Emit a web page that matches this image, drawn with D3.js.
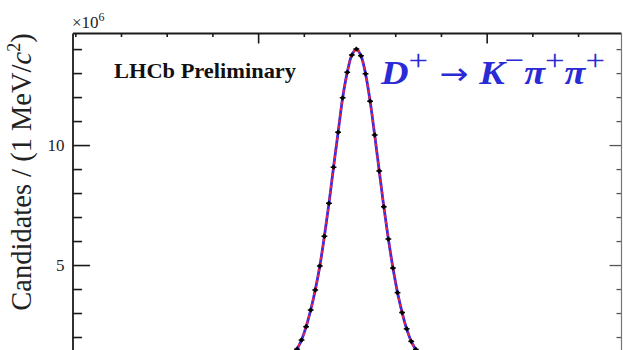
<!DOCTYPE html>
<html>
<head>
<meta charset="utf-8">
<script src="https://cdn.jsdelivr.net/npm/d3@7"></script>
<style>
  html, body { margin: 0; padding: 0; background: #fff; }
  svg { display: block; }
  text { font-family: "Liberation Serif", "Times New Roman", serif; }
</style>
</head>
<body>
<svg id="chart" width="623" height="350"></svg>
<script>
// D+ -> K- pi+ pi+ invariant-mass peak, 1 MeV/c^2 bins (candidates in units of 10^6)
const massBins = [
  1857.5, 1858.5, 1859.5, 1860.5, 1861.5, 1862.5, 1863.5, 1864.5, 1865.5,
  1866.5, 1867.5, 1868.5, 1869.5, 1870.5, 1871.5, 1872.5, 1873.5, 1874.5,
  1875.5, 1876.5, 1877.5, 1878.5, 1879.5, 1880.5, 1881.5, 1882.5, 1883.5,
  1884.5, 1885.5
];
const candidatesE6 = [
  1.18, 1.49, 1.875, 2.43, 3.125, 3.96, 4.96, 6.20, 7.57,
  9.08, 10.53, 11.97, 13.03, 13.75, 14.00, 13.72, 12.97, 11.83,
  10.42, 8.92, 7.43, 6.08, 4.875, 3.85, 3.02, 2.34, 1.82,
  1.48, 1.17
];
// fit model evaluated at the bin centres
const fitE6 = candidatesE6.slice();

const yMajorTicks = [5, 10];
const yTickLabels = ["5", "10"];
const yMinorTicks = [1, 2, 3, 4, 6, 7, 8, 9, 11, 12, 13, 14];
const xMajorTicks = [1850, 1900];
const xMinorTicks = [1810, 1820, 1830, 1840, 1860, 1870, 1880, 1890, 1910, 1920];

const frame = { left: 73, right: 621.5, top: 33.5, bottom: 385 };
const svg = d3.select("#chart");

const x = d3.scaleLinear().domain([1809.5, 1929.5]).range([frame.left, frame.right]);
const y = d3.scaleLinear().domain([0, 14.65]).range([frame.bottom, frame.top]);

const axisColor = "#1a1a1a";

// left axis: long major ticks, short minor ticks, pointing into the frame
const leftMajor = d3.axisRight(y).tickValues(yMajorTicks).tickSize(17).tickFormat("");
const leftMinor = d3.axisRight(y).tickValues(yMinorTicks).tickSize(9).tickFormat("");
const rightMajor = d3.axisLeft(y).tickValues(yMajorTicks).tickSize(12).tickFormat("");
const rightMinor = d3.axisLeft(y).tickValues(yMinorTicks).tickSize(5).tickFormat("");
const topMajor = d3.axisBottom(x).tickValues(xMajorTicks).tickSize(10).tickFormat("");
const topMinor = d3.axisBottom(x).tickValues(xMinorTicks).tickSize(3.5).tickFormat("");

function styleAxis(g) {
  g.select(".domain").remove();
  g.selectAll(".tick line").attr("stroke", axisColor).attr("stroke-width", 1.6);
}

svg.append("g").attr("transform", `translate(${frame.left},0)`).call(leftMajor).call(styleAxis);
svg.append("g").attr("transform", `translate(${frame.left},0)`).call(leftMinor).call(styleAxis);
svg.append("g").attr("transform", `translate(${frame.right},0)`).call(rightMajor).call(styleAxis)
  .selectAll(".tick line").attr("stroke", "#555").attr("stroke-width", 1.3);
svg.append("g").attr("transform", `translate(${frame.right},0)`).call(rightMinor).call(styleAxis)
  .selectAll(".tick line").attr("stroke", "#555").attr("stroke-width", 1.3);
svg.append("g").attr("transform", `translate(0,${frame.top})`).call(topMajor).call(styleAxis);
svg.append("g").attr("transform", `translate(0,${frame.top})`).call(topMinor).call(styleAxis);

// frame lines
svg.append("line").attr("x1", frame.left).attr("x2", frame.left)
  .attr("y1", frame.top).attr("y2", frame.bottom + 20)
  .attr("stroke", axisColor).attr("stroke-width", 1.8);
svg.append("line").attr("x1", frame.left).attr("x2", frame.right)
  .attr("y1", frame.top).attr("y2", frame.top)
  .attr("stroke", axisColor).attr("stroke-width", 1.8);
svg.append("line").attr("x1", frame.right).attr("x2", frame.right)
  .attr("y1", frame.top).attr("y2", frame.bottom + 20)
  .attr("stroke", "#777").attr("stroke-width", 1.2);

// y tick labels
svg.selectAll(".ylab").data(yMajorTicks).enter().append("text")
  .attr("class", "ylab")
  .attr("x", 64.5).attr("y", d => y(d)).attr("dy", "0.34em")
  .attr("text-anchor", "end").attr("font-size", 17).attr("fill", "#222")
  .text((d, i) => yTickLabels[i]);

// exponent label
const expo = svg.append("text").attr("x", 72).attr("y", 28).attr("font-size", 17).attr("fill", "#222");
expo.append("tspan").text("×10");
expo.append("tspan").attr("dy", -7).attr("font-size", 12).text("6");

// y axis title
const ytitle = svg.append("text")
  .attr("transform", "translate(31,172) rotate(-90)")
  .attr("text-anchor", "middle").attr("font-size", 28.5).attr("fill", "#222");
ytitle.append("tspan").text("Candidates / (1 MeV/");
ytitle.append("tspan").attr("font-style", "italic").text("c");
ytitle.append("tspan").attr("dy", -11).attr("font-size", 18).text("2");
ytitle.append("tspan").attr("dy", 11).text(")");

// plot clip
svg.append("clipPath").attr("id", "plotclip").append("rect")
  .attr("x", frame.left).attr("y", frame.top)
  .attr("width", frame.right - frame.left).attr("height", frame.bottom - frame.top + 40);

const plot = svg.append("g").attr("clip-path", "url(#plotclip)");

const fitLine = d3.line()
  .x((d, i) => x(massBins[i]))
  .y(d => y(d))
  .curve(d3.curveCatmullRom.alpha(0.5));

// total fit (blue) and signal component (red dashed)
plot.append("path").datum(fitE6).attr("d", fitLine)
  .attr("fill", "none").attr("stroke", "#3a2ae0").attr("stroke-width", 2.8);
plot.append("path").datum(fitE6).attr("d", fitLine)
  .attr("fill", "none").attr("stroke", "#f02040").attr("stroke-width", 2.2)
  .attr("stroke-dasharray", "3,3");

// data points with bin-width bars
const pts = plot.selectAll(".pt").data(candidatesE6).enter().append("g")
  .attr("class", "pt")
  .attr("transform", (d, i) => `translate(${x(massBins[i])},${y(d)})`);
const halfBin = (x(1) - x(0)) / 2 + 0.6;
pts.append("line").attr("x1", -halfBin).attr("x2", halfBin).attr("y1", 0).attr("y2", 0)
  .attr("stroke", "#000").attr("stroke-width", 1.5);
pts.append("line").attr("x1", 0).attr("x2", 0).attr("y1", -2.4).attr("y2", 2.4)
  .attr("stroke", "#000").attr("stroke-width", 1.4);
pts.append("circle").attr("r", 1.9).attr("fill", "#000");

// labels
svg.append("text").attr("x", 114).attr("y", 78)
  .attr("font-size", 21).attr("font-weight", "bold").attr("fill", "#111")
  .attr("textLength", 182).attr("lengthAdjust", "spacingAndGlyphs")
  .text("LHCb Preliminary");

const decay = svg.append("text").attr("x", 381).attr("y", 84)
  .attr("font-size", 33).attr("font-weight", "bold").attr("fill", "#2b2bd6")
  .attr("textLength", 224).attr("lengthAdjust", "spacingAndGlyphs");
decay.append("tspan").attr("font-style", "italic").text("D");
decay.append("tspan").attr("dy", -14).attr("font-size", 30).attr("font-weight", "normal").text("+");
decay.append("tspan").attr("dy", 14).attr("font-size", 30).attr("font-weight", "normal")
  .attr("font-family", "DejaVu Sans").text(" → ");
decay.append("tspan").attr("font-style", "italic").text("K");
decay.append("tspan").attr("dy", -14).attr("font-size", 30).attr("font-weight", "normal").text("−");
decay.append("tspan").attr("dy", 14).attr("font-style", "italic").text("π");
decay.append("tspan").attr("dy", -14).attr("font-size", 30).attr("font-weight", "normal").text("+");
decay.append("tspan").attr("dy", 14).attr("font-style", "italic").text("π");
decay.append("tspan").attr("dy", -14).attr("font-size", 30).attr("font-weight", "normal").text("+");
</script>
</body>
</html>
